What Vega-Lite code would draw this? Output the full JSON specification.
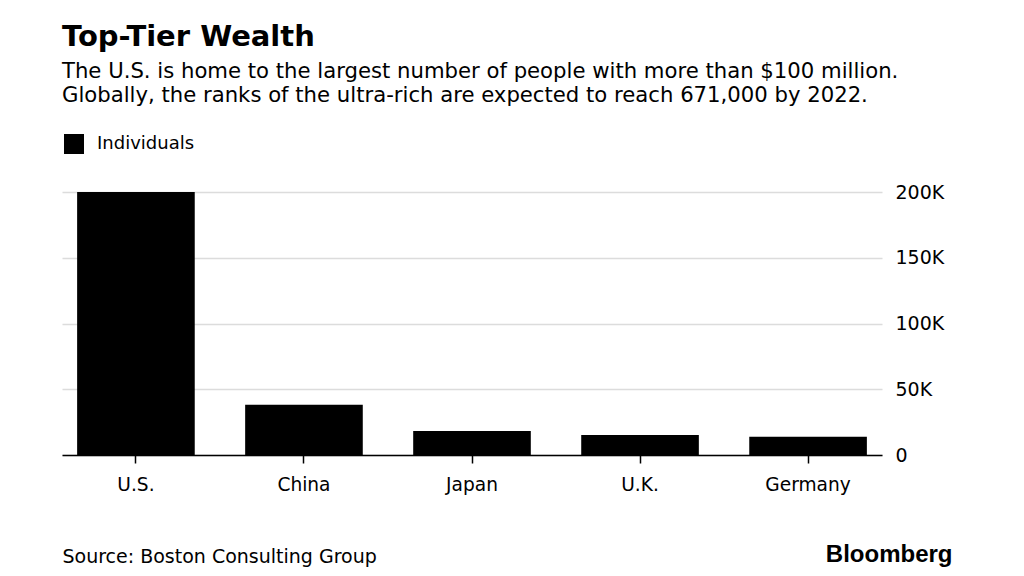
{
  "$schema": "https://vega.github.io/schema/vega-lite/v6.json",
  "width": 820,
  "height": 263,
  "autosize": "none",
  "padding": {"left": 62, "top": 192, "right": 142, "bottom": 121},
  "background": "white",
  "config": {
    "font": "DejaVu Sans",
    "view": {"stroke": null}
  },
  "title": {
    "text": "Top-Tier Wealth",
    "subtitle": [
      "The U.S. is home to the largest number of people with more than $100 million.",
      "Globally, the ranks of the ultra-rich are expected to reach 671,000 by 2022."
    ],
    "anchor": "start",
    "frame": "group",
    "font": "DejaVu Sans",
    "fontSize": 29,
    "fontWeight": "bold",
    "color": "#000000",
    "subtitleFont": "DejaVu Sans",
    "subtitleFontSize": 21.2,
    "subtitleColor": "#000000",
    "subtitleLineHeight": 24,
    "subtitlePadding": 9,
    "offset": 28
  },
  "data": {
    "values": [
      {"country": "U.S.", "individuals": 200000, "series": "Individuals"},
      {"country": "China", "individuals": 38300, "series": "Individuals"},
      {"country": "Japan", "individuals": 18300, "series": "Individuals"},
      {"country": "U.K.", "individuals": 15200, "series": "Individuals"},
      {"country": "Germany", "individuals": 13900, "series": "Individuals"}
    ]
  },
  "mark": {"type": "bar"},
  "encoding": {
    "x": {
      "field": "country",
      "type": "nominal",
      "sort": null,
      "scale": {"paddingInner": 0.3, "paddingOuter": 0.09},
      "axis": {
        "title": "Source: Boston Consulting Group",
        "titleFontSize": 19,
        "titleFontWeight": "normal",
        "titleColor": "#000000",
        "titleX": 0,
        "titleY": 107,
        "titleAlign": "left",
        "titleBaseline": "alphabetic",
        "labelAngle": 0,
        "labelFontSize": 18.6,
        "labelColor": "#000000",
        "labelPadding": 12,
        "domainColor": "#000000",
        "domainWidth": 1.5,
        "tickColor": "#000000",
        "tickSize": 8,
        "tickWidth": 1.5
      }
    },
    "y": {
      "field": "individuals",
      "type": "quantitative",
      "scale": {"domain": [0, 200000]},
      "axis": {
        "orient": "right",
        "values": [0, 50000, 100000, 150000, 200000],
        "labelExpr": "datum.value == 0 ? '0' : (datum.value / 1000) + 'K'",
        "labelFontSize": 19,
        "labelColor": "#000000",
        "labelPadding": 13,
        "domain": false,
        "ticks": false,
        "grid": true,
        "gridColor": "#dcdcdc",
        "gridWidth": 1.5,
        "title": "Bloomberg",
        "titleFont": "Liberation Sans",
        "titleAngle": 0,
        "titleFontSize": 24,
        "titleFontWeight": "bold",
        "titleColor": "#000000",
        "titleX": 70,
        "titleY": 369,
        "titleAlign": "right",
        "titleBaseline": "alphabetic"
      }
    },
    "color": {
      "field": "series",
      "type": "nominal",
      "scale": {"range": ["#000000"]},
      "legend": {
        "title": null,
        "orient": "none",
        "legendX": 2,
        "legendY": -58,
        "padding": 0,
        "symbolType": "square",
        "symbolSize": 400,
        "symbolStrokeWidth": 0,
        "symbolOpacity": 1,
        "labelFontSize": 18,
        "labelColor": "#000000",
        "labelOffset": 13
      }
    }
  }
}
